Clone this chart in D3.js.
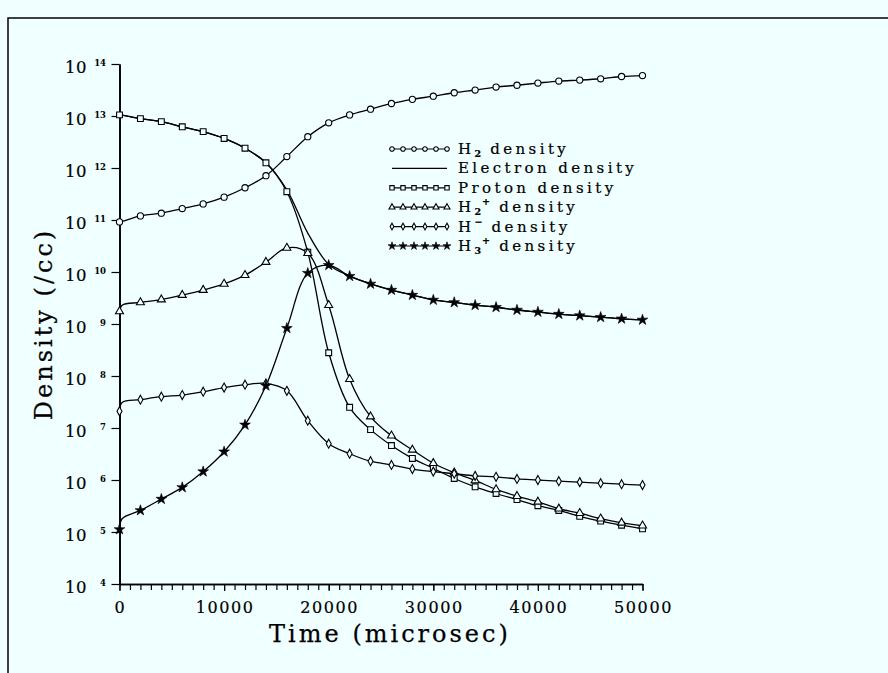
<!DOCTYPE html>
<html>
<head>
<meta charset="utf-8">
<script src="https://cdn.jsdelivr.net/npm/d3@7"></script>
<style>
  html, body { margin: 0; padding: 0; background: #f0ffff; }
  svg { display: block; }
  text { font-family: "DejaVu Serif", "Liberation Serif", serif; fill: #000; }
</style>
</head>
<body>
<svg id="chart" width="888" height="673"></svg>
<script>
// Simulation output times (microseconds); markers are placed every 2000 us.
const times = [0, 250, 2000, 4000, 6000, 8000, 10000, 12000, 14000, 16000, 18000, 20000,
  22000, 24000, 26000, 28000, 30000, 32000, 34000, 36000, 38000, 40000, 42000, 44000,
  46000, 48000, 50000];

// Species densities (/cc) at each time above.
const h2Density = [9.2e10, 9.4e10, 1.2e11, 1.35e11, 1.66e11, 2.04e11, 2.75e11, 4.17e11, 7.1e11,
  1.66e12, 4.0e12, 7.4e12, 1.05e13, 1.35e13, 1.74e13, 2.09e13, 2.4e13, 2.8e13, 3.16e13, 3.6e13,
  3.9e13, 4.3e13, 4.7e13, 4.9e13, 5.2e13, 5.75e13, 6.0e13];
const electronDensity = [1.05e13, 1.04e13, 8.9e12, 7.8e12, 6.2e12, 5.0e12, 3.7e12, 2.4e12, 1.27e12,
  3.8e11, 5.6e10, 1.4e10, 8.4e9, 5.9e9, 4.5e9, 3.6e9, 2.9e9, 2.6e9, 2.3e9, 2.1e9,
  1.86e9, 1.7e9, 1.55e9, 1.45e9, 1.35e9, 1.26e9, 1.2e9];
const protonDensity = [1.05e13, 1.04e13, 8.9e12, 7.8e12, 6.2e12, 5.0e12, 3.7e12, 2.4e12, 1.26e12,
  3.5e11, 2.4e10, 2.8e8, 2.5e7, 9.3e6, 4.6e6, 2.6e6, 1.68e6, 1.07e6, 7.4e5, 5.5e5,
  4.2e5, 3.2e5, 2.6e5, 2.0e5, 1.62e5, 1.35e5, 1.15e5];
const h2PlusDensity = [1.74e9, 2.3e9, 2.6e9, 2.95e9, 3.6e9, 4.5e9, 5.9e9, 8.7e9, 1.55e10,
  2.9e10, 2.3e10, 2.3e9, 8.7e7, 1.66e7, 7.1e6, 3.8e6, 2.1e6, 1.38e6, 9.8e5, 6.6e5,
  4.9e5, 3.8e5, 2.8e5, 2.3e5, 1.8e5, 1.5e5, 1.32e5];
const hMinusDensity = [2.1e7, 3.1e7, 3.5e7, 4.0e7, 4.3e7, 5.0e7, 6.0e7, 6.8e7, 7.2e7,
  5.2e7, 1.38e7, 5.0e6, 3.2e6, 2.3e6, 1.95e6, 1.62e6, 1.45e6, 1.32e6, 1.2e6, 1.15e6,
  1.05e6, 1.0e6, 9.5e5, 9.1e5, 8.7e5, 8.3e5, 8.0e5];
const h3PlusDensity = [1.12e5, 1.8e5, 2.6e5, 4.3e5, 7.2e5, 1.45e6, 3.5e6, 1.15e7, 6.5e7,
  8.3e8, 9.5e9, 1.35e10, 8.3e9, 5.9e9, 4.5e9, 3.6e9, 2.9e9, 2.6e9, 2.3e9, 2.1e9,
  1.86e9, 1.7e9, 1.55e9, 1.45e9, 1.35e9, 1.26e9, 1.2e9];

// Axis ticks and labels
const xTickLabels = [0, 10000, 20000, 30000, 40000, 50000];
const yDecades = [4, 5, 6, 7, 8, 9, 10, 11, 12, 13, 14];

const xTitle = "Time (microsec)";
const yTitle = "Density (/cc)";

// Legend entries: base text, subscript, superscript, remaining text, marker
const seriesList = [
  { base: "H", sub: "2", sup: "",  rest: " density", marker: "circle",   values: h2Density },
  { base: "Electron density", sub: "", sup: "", rest: "", marker: "none", values: electronDensity },
  { base: "Proton density", sub: "", sup: "", rest: "", marker: "square", values: protonDensity },
  { base: "H", sub: "2", sup: "+", rest: " density", marker: "triangle", values: h2PlusDensity },
  { base: "H", sub: "",  sup: "\u2212", rest: " density", marker: "diamond", values: hMinusDensity },
  { base: "H", sub: "3", sup: "+", rest: " density", marker: "star",     values: h3PlusDensity }
];

const BG = "#f0ffff";
const svg = d3.select("#chart");
svg.append("rect").attr("width", 888).attr("height", 673).attr("fill", BG);

// outer frame
svg.append("path").attr("d", "M8,673 V18 H888")
  .attr("fill", "none").attr("stroke", "#000").attr("stroke-width", 1.5);

const x = d3.scaleLinear().domain([0, 50000]).range([119.5, 642.5]);
const y = d3.scaleLog().domain([1e4, 1e14]).range([584, 64]);

// ---- axes ----
const xMinor = d3.range(0, 50001, 1000);
const yMinor = y.ticks().filter(v => Math.abs(Math.log10(v) - Math.round(Math.log10(v))) > 1e-6);
const yMajor = yDecades.map(e => Math.pow(10, e));

function styleAxis(g) {
  g.selectAll("path").attr("stroke", "#000").attr("stroke-width", 1.6);
  g.selectAll("line").attr("stroke", "#000").attr("stroke-width", 1.2);
  g.selectAll("text").remove();
}

svg.append("g").attr("transform", "translate(0,584)")
  .call(d3.axisBottom(x).tickValues(xMinor).tickSize(6).tickSizeOuter(0).tickFormat(""))
  .call(styleAxis);
svg.append("g").attr("transform", "translate(0,584)")
  .call(d3.axisBottom(x).tickValues(xTickLabels).tickSize(7).tickSizeOuter(0).tickFormat(""))
  .call(styleAxis);
svg.append("g").attr("transform", "translate(119.5,0)")
  .call(d3.axisLeft(y).tickValues(yMinor).tickSize(5).tickSizeOuter(0).tickFormat(""))
  .call(styleAxis);
svg.append("g").attr("transform", "translate(119.5,0)")
  .call(d3.axisLeft(y).tickValues(yMajor).tickSize(8).tickSizeOuter(0).tickFormat(""))
  .call(styleAxis);

// x tick labels
svg.append("g").selectAll("text").data(xTickLabels).join("text")
  .attr("x", d => x(d) + 1)
  .attr("y", 613)
  .attr("text-anchor", "middle")
  .attr("font-size", 16)
  .attr("letter-spacing", 1.6)
  .attr("stroke", "#000").attr("stroke-width", 0.2)
  .text(d => d);

// y tick labels: 10 with exponent
const yl = svg.append("g");
yl.selectAll("text.base").data(yDecades).join("text").attr("class", "base")
  .attr("x", 87).attr("y", d => y(Math.pow(10, d)) + 8.5)
  .attr("text-anchor", "end").attr("font-size", 16.5).attr("letter-spacing", 0.5)
  .attr("stroke", "#000").attr("stroke-width", 0.2)
  .text("10");
yl.selectAll("text.exp").data(yDecades).join("text").attr("class", "exp")
  .attr("x", 106).attr("y", d => y(Math.pow(10, d)) + 2)
  .attr("text-anchor", "end").attr("font-size", 8.5).attr("font-weight", "bold")
  .text(d => d);

// axis titles
svg.append("text").attr("x", 390).attr("y", 642)
  .attr("text-anchor", "middle").attr("font-size", 24).attr("letter-spacing", 3)
  .attr("stroke", "#000").attr("stroke-width", 0.25)
  .text(xTitle);
svg.append("text").attr("transform", "translate(52,324) rotate(-90)")
  .attr("text-anchor", "middle").attr("font-size", 24).attr("letter-spacing", 3)
  .attr("stroke", "#000").attr("stroke-width", 0.25)
  .text(yTitle);

// ---- markers ----
function markerPath(kind, s) {
  switch (kind) {
    case "circle": return d3.symbol(d3.symbolCircle, 30 * s * s)();
    case "square": return d3.symbol(d3.symbolSquare, 34 * s * s)();
    case "triangle": return d3.symbol(d3.symbolTriangle, 28 * s * s)();
    case "diamond": {
      const w = 2.5 * s, h = 4.5 * s;
      return `M0,${-h}L${w},0L0,${h}L${-w},0Z`;
    }
    case "star": return d3.symbol(d3.symbolStar, 36 * s * s)();
    default: return "";
  }
}
function drawMarker(g, kind, px, py, s) {
  if (kind === "none") return;
  g.append("path")
    .attr("d", markerPath(kind, s))
    .attr("transform", `translate(${px},${py})`)
    .attr("fill", kind === "star" ? "#000" : BG)
    .attr("stroke", "#000")
    .attr("stroke-width", kind === "star" ? 0.6 : 1.1);
}

// ---- curves ----
const line = d3.line()
  .x(d => x(d[0]))
  .y(d => y(d[1]))
  .curve(d3.curveCatmullRom.alpha(0.5));

const plot = svg.append("g");
seriesList.forEach(s => {
  const pts = times.map((t, i) => [t, s.values[i]]);
  plot.append("path").datum(pts)
    .attr("d", line)
    .attr("fill", "none")
    .attr("stroke", "#000")
    .attr("stroke-width", 1.3);
});
seriesList.forEach(s => {
  const g = plot.append("g");
  times.forEach((t, i) => {
    if (t % 2000 === 0) drawMarker(g, s.marker, x(t), y(s.values[i]), 1);
  });
});

// ---- legend ----
const legend = svg.append("g");
seriesList.forEach((s, i) => {
  const cy = 149 + i * 19.4;
  const g = legend.append("g");
  g.append("line").attr("x1", 392).attr("x2", 447).attr("y1", cy).attr("y2", cy)
    .attr("stroke", "#000").attr("stroke-width", 1.2);
  if (s.marker !== "none") {
    for (let j = 0; j < 6; j++) drawMarker(g, s.marker, 392 + j * 11, cy, 0.75);
  }
  const t = g.append("text").attr("x", 458).attr("y", cy + 5)
    .attr("font-size", 15).attr("letter-spacing", 3.4)
    .attr("stroke", "#000").attr("stroke-width", 0.2);
  t.append("tspan").text(s.base);
  let shift = 0;
  if (s.sub) {
    t.append("tspan").attr("dy", 3).attr("font-size", 9.5).attr("font-weight", "bold")
      .attr("letter-spacing", 1).text(s.sub);
    shift += 3;
  }
  if (s.sup) {
    t.append("tspan").attr("dy", -shift - 7).attr("font-size", 9.5).attr("font-weight", "bold")
      .attr("letter-spacing", 1).text(s.sup);
    shift = -7;
  }
  if (s.rest) {
    t.append("tspan").attr("dy", -shift).text(s.rest);
  }
});
</script>
</body>
</html>
